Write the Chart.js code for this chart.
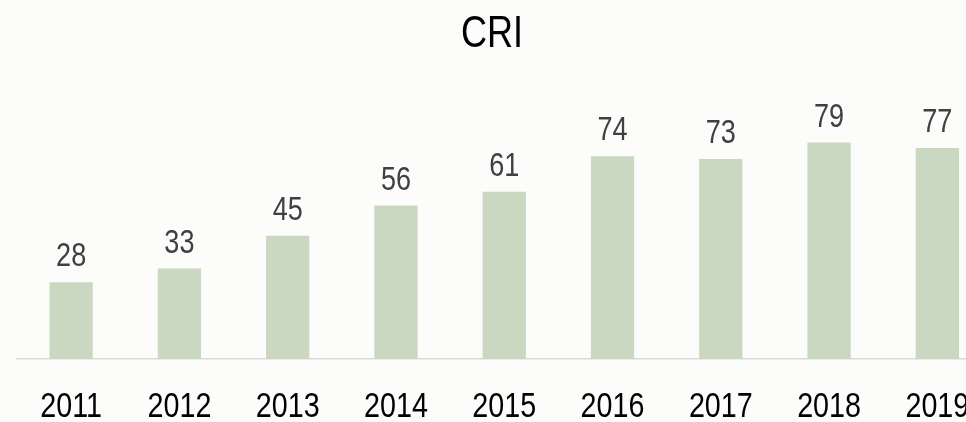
<!DOCTYPE html>
<html>
<head>
<meta charset="utf-8">
<script src="https://cdn.jsdelivr.net/npm/chart.js@4"></script>
<style>
  html, body { margin: 0; padding: 0; overflow: hidden; background: #fcfcfb; }
  #wrap { width: 1000px; height: 422px; }
</style>
</head>
<body>
<div id="wrap"><canvas id="chart"></canvas></div>
<script>
// chart data
const years = ['2011', '2012', '2013', '2014', '2015', '2016', '2017', '2018', '2019'];
const cri = [28, 33, 45, 56, 61, 74, 73, 79, 77];
const chartTitle = 'CRI';

const FONT = "'Liberation Sans', Arial, sans-serif";
const NARROW = 0.82; // the original uses a narrow face, squeeze Liberation Sans to match

function narrowText(ctx, text, x, y) {
  ctx.save();
  ctx.translate(x, y);
  ctx.scale(NARROW, 1);
  ctx.fillText(text, 0, 0);
  ctx.restore();
}

// title, year labels and bar values, drawn condensed
const textLayer = {
  id: 'textLayer',
  afterDatasetsDraw(chart) {
    const ctx = chart.ctx;
    const xScale = chart.scales.x;
    const meta = chart.getDatasetMeta(0);
    ctx.save();
    ctx.textAlign = 'center';
    ctx.textBaseline = 'alphabetic';

    ctx.fillStyle = '#000000';
    ctx.font = '44px ' + FONT;
    narrowText(ctx, chartTitle, 492, 47);

    ctx.font = '35px ' + FONT;
    years.forEach((y, i) => {
      narrowText(ctx, y, xScale.getPixelForValue(i), 417);
    });

    ctx.fillStyle = '#404040';
    ctx.font = '33px ' + FONT;
    meta.data.forEach((bar, i) => {
      narrowText(ctx, String(cri[i]), bar.x, bar.y - 16);
    });
    ctx.restore();
  }
};

new Chart(document.getElementById('chart'), {
  type: 'bar',
  data: {
    labels: years,
    datasets: [{
      label: chartTitle,
      data: cri,
      backgroundColor: '#cbd8c1',
      categoryPercentage: 1,
      barPercentage: 0.4
    }]
  },
  options: {
    responsive: true,
    maintainAspectRatio: false,
    animation: false,
    layout: { padding: { left: 17, right: 8.5, top: 85, bottom: 55 } },
    plugins: {
      legend: { display: false },
      tooltip: { enabled: false },
      title: { display: false }
    },
    scales: {
      x: {
        grid: { display: false },
        border: { display: true, color: '#d9d9d9', width: 1.5 },
        ticks: { display: false }
      },
      y: {
        display: false,
        min: 0,
        max: 100
      }
    }
  },
  plugins: [textLayer]
});
</script>
</body>
</html>
